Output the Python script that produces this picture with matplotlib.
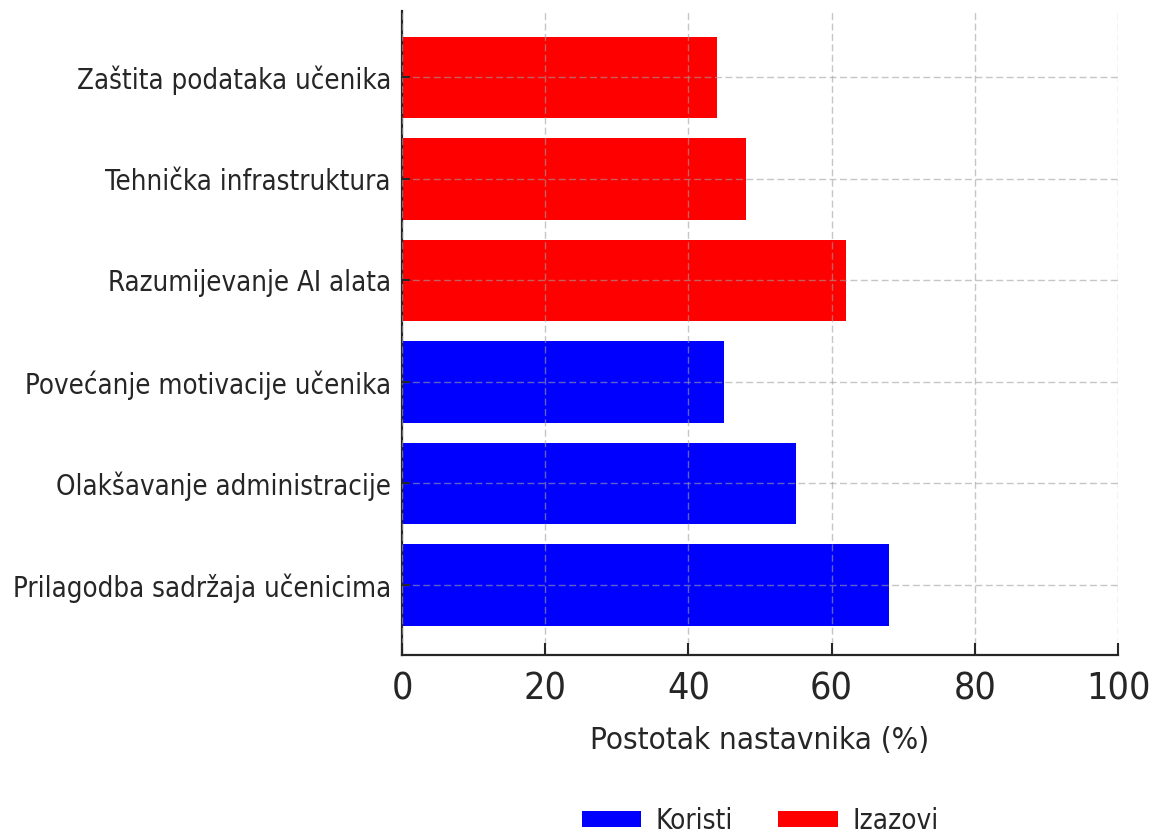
import matplotlib
matplotlib.use("Agg")
import matplotlib.pyplot as plt

# podaci (odozdo prema gore)
kategorije = [
    "Prilagodba sadržaja učenicima",
    "Olakšavanje administracije",
    "Povećanje motivacije učenika",
    "Razumijevanje AI alata",
    "Tehnička infrastruktura",
    "Zaštita podataka učenika",
]
postotci = [68, 55, 45, 62, 48, 44]
grupe = ["Koristi", "Koristi", "Koristi", "Izazovi", "Izazovi", "Izazovi"]
boje_grupa = {"Koristi": "#0000ff", "Izazovi": "#ff0000"}
x_ticks = [0, 20, 40, 60, 80, 100]

plt.rcParams["font.family"] = ["DejaVu Sans"]
plt.rcParams["font.stretch"] = "condensed"
tekst_boja = "#262626"

fig = plt.figure(figsize=(11.54, 8.38), dpi=100)
ax = fig.add_axes([402 / 1154, 1 - 655 / 838, 716 / 1154, 644 / 838])

vec = set()
for kat, val, grp in zip(kategorije, postotci, grupe):
    lab = grp if grp not in vec else None
    vec.add(grp)
    ax.barh(kat, val, height=0.8, color=boje_grupa[grp], label=lab, zorder=1)

ax.set_xlim(0, 100)
ax.set_ylim(-0.69, 5.655)
ax.set_xticks(x_ticks)
ax.set_xticklabels([str(t) for t in x_ticks], fontsize=27, color=tekst_boja, stretch="condensed")
ax.set_yticks(range(len(kategorije)))
ax.set_yticklabels(kategorije, fontsize=19.8, color=tekst_boja, stretch="condensed")
ax.set_xlabel("Postotak nastavnika (%)", fontsize=22.5, color=tekst_boja,
              stretch="condensed", labelpad=13)

ax.grid(True, linestyle=(0, (5, 2.5)), linewidth=1, color="#a0a0a0", alpha=0.6, zorder=3)
ax.set_axisbelow(False)

for s in ["top", "right"]:
    ax.spines[s].set_visible(False)
for s in ["left", "bottom"]:
    ax.spines[s].set_linewidth(1.6)
    ax.spines[s].set_color(tekst_boja)

ax.tick_params(axis="x", direction="in", length=9, width=1.5, color=tekst_boja, pad=12)
ax.tick_params(axis="y", direction="in", length=6, width=1.5, color=tekst_boja, pad=8)

ax.legend(loc="center", bbox_to_anchor=(0.5, -0.258), ncol=2, frameon=False,
          prop={"size": 20, "stretch": "condensed"}, labelcolor=tekst_boja,
          handlelength=2.15, handleheight=0.5, handletextpad=0.5, columnspacing=1.65)

fig.savefig("out.png", dpi=100)
